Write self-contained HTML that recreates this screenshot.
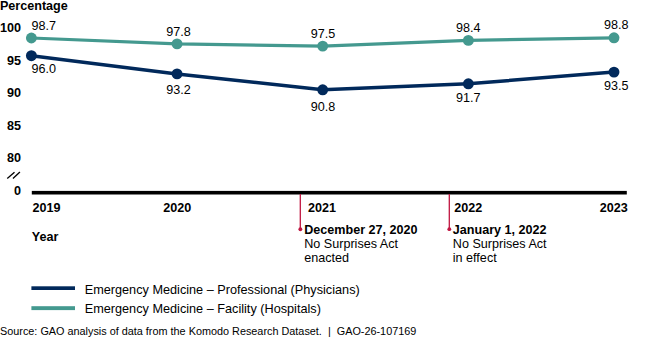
<!DOCTYPE html>
<html><head><meta charset="utf-8"><style>
html,body{margin:0;padding:0;background:#fff;}
body{width:650px;height:338px;position:relative;overflow:hidden;font-family:"Liberation Sans",sans-serif;color:#000;}
.t{position:absolute;white-space:nowrap;line-height:20px;}
.b{font-weight:bold;}
</style></head><body>
<svg width="650" height="338" style="position:absolute;left:0;top:0">
<polyline points="31.40,38.00 177.05,43.90 322.70,46.10 468.35,40.40 614.00,37.80" fill="none" stroke="#44998f" stroke-width="3.2" stroke-linejoin="round"/>
<polyline points="31.40,55.70 177.05,73.90 322.70,89.80 468.35,83.80 614.00,72.10" fill="none" stroke="#01295b" stroke-width="3.5" stroke-linejoin="round"/>
<circle cx="31.40" cy="38.00" r="5.45" fill="#44998f"/><circle cx="177.05" cy="43.90" r="5.45" fill="#44998f"/><circle cx="322.70" cy="46.10" r="5.45" fill="#44998f"/><circle cx="468.35" cy="40.40" r="5.45" fill="#44998f"/><circle cx="614.00" cy="37.80" r="5.45" fill="#44998f"/><circle cx="31.40" cy="55.70" r="5.45" fill="#01295b"/><circle cx="177.05" cy="73.90" r="5.45" fill="#01295b"/><circle cx="322.70" cy="89.80" r="5.45" fill="#01295b"/><circle cx="468.35" cy="83.80" r="5.45" fill="#01295b"/><circle cx="614.00" cy="72.10" r="5.45" fill="#01295b"/>
<rect x="31.8" y="190.9" width="595" height="3.6" fill="#000"/>
<line x1="300.3" y1="194" x2="300.3" y2="229.2" stroke="#c01540" stroke-width="1.3"/>
<circle cx="300.35" cy="229.25" r="1.9" fill="#c01540"/>
<line x1="449.3" y1="194" x2="449.3" y2="229.2" stroke="#c01540" stroke-width="1.3"/>
<circle cx="449.3" cy="229.2" r="1.9" fill="#c01540"/>
<line x1="7.25" y1="178.5" x2="14.5" y2="172.2" stroke="#000" stroke-width="1.3"/>
<line x1="12.95" y1="178.5" x2="19.9" y2="172" stroke="#000" stroke-width="1.3"/>
<rect x="31.4" y="286.3" width="43.6" height="3.7" fill="#01295b"/>
<rect x="31.4" y="306.2" width="43.6" height="3.9" fill="#44998f"/>
</svg>
<div class="t b" style="top:-3.80px;font-size:12.6px;left:-0.10px;">Percentage</div>
<div class="t b" style="top:17.75px;font-size:12.6px;left:-279.00px;width:300px;text-align:right;">100</div>
<div class="t b" style="top:50.70px;font-size:12.6px;left:-279.00px;width:300px;text-align:right;">95</div>
<div class="t b" style="top:83.10px;font-size:12.6px;left:-279.00px;width:300px;text-align:right;">90</div>
<div class="t b" style="top:115.75px;font-size:12.6px;left:-279.00px;width:300px;text-align:right;">85</div>
<div class="t b" style="top:147.55px;font-size:12.6px;left:-279.00px;width:300px;text-align:right;">80</div>
<div class="t b" style="top:180.90px;font-size:12.6px;left:-279.00px;width:300px;text-align:right;">0</div>
<div class="t b" style="top:197.65px;font-size:12.6px;left:32.60px;">2019</div>
<div class="t b" style="top:197.65px;font-size:12.6px;left:27.30px;width:300px;text-align:center;">2020</div>
<div class="t b" style="top:197.90px;font-size:12.6px;left:172.10px;width:300px;text-align:center;">2021</div>
<div class="t b" style="top:197.90px;font-size:12.6px;left:318.30px;width:300px;text-align:center;">2022</div>
<div class="t b" style="top:198.00px;font-size:12.6px;left:327.80px;width:300px;text-align:right;">2023</div>
<div class="t b" style="top:226.80px;font-size:12.6px;left:31.70px;">Year</div>
<div class="t" style="top:16.25px;font-size:12.6px;left:-106.20px;width:300px;text-align:center;">98.7</div>
<div class="t" style="top:22.35px;font-size:12.6px;left:28.55px;width:300px;text-align:center;">97.8</div>
<div class="t" style="top:23.95px;font-size:12.6px;left:173.00px;width:300px;text-align:center;">97.5</div>
<div class="t" style="top:18.30px;font-size:12.6px;left:318.35px;width:300px;text-align:center;">98.4</div>
<div class="t" style="top:15.05px;font-size:12.6px;left:466.30px;width:300px;text-align:center;">98.8</div>
<div class="t" style="top:59.15px;font-size:12.6px;left:-106.20px;width:300px;text-align:center;">96.0</div>
<div class="t" style="top:79.95px;font-size:12.6px;left:28.45px;width:300px;text-align:center;">93.2</div>
<div class="t" style="top:96.97px;font-size:12.6px;left:173.00px;width:300px;text-align:center;">90.8</div>
<div class="t" style="top:88.25px;font-size:12.6px;left:318.35px;width:300px;text-align:center;">91.7</div>
<div class="t" style="top:75.85px;font-size:12.6px;left:466.30px;width:300px;text-align:center;">93.5</div>
<div class="t b" style="top:219.95px;font-size:12.6px;left:304.20px;">December 27, 2020</div>
<div class="t" style="top:233.85px;font-size:12.6px;left:304.20px;">No Surprises Act</div>
<div class="t" style="top:248.30px;font-size:12.6px;left:304.20px;">enacted</div>
<div class="t b" style="top:219.95px;font-size:12.6px;left:452.80px;">January 1, 2022</div>
<div class="t" style="top:233.85px;font-size:12.6px;left:452.80px;">No Surprises Act</div>
<div class="t" style="top:248.30px;font-size:12.6px;left:452.80px;">in effect</div>
<div class="t" style="top:279.60px;font-size:12.7px;left:84.70px;">Emergency Medicine – Professional (Physicians)</div>
<div class="t" style="top:299.40px;font-size:12.7px;left:84.70px;">Emergency Medicine – Facility (Hospitals)</div>
<div class="t" style="top:321.15px;font-size:10.85px;left:0.00px;">Source: GAO analysis of data from the Komodo Research Dataset.&nbsp; |&nbsp; GAO-26-107169</div>
</body></html>
